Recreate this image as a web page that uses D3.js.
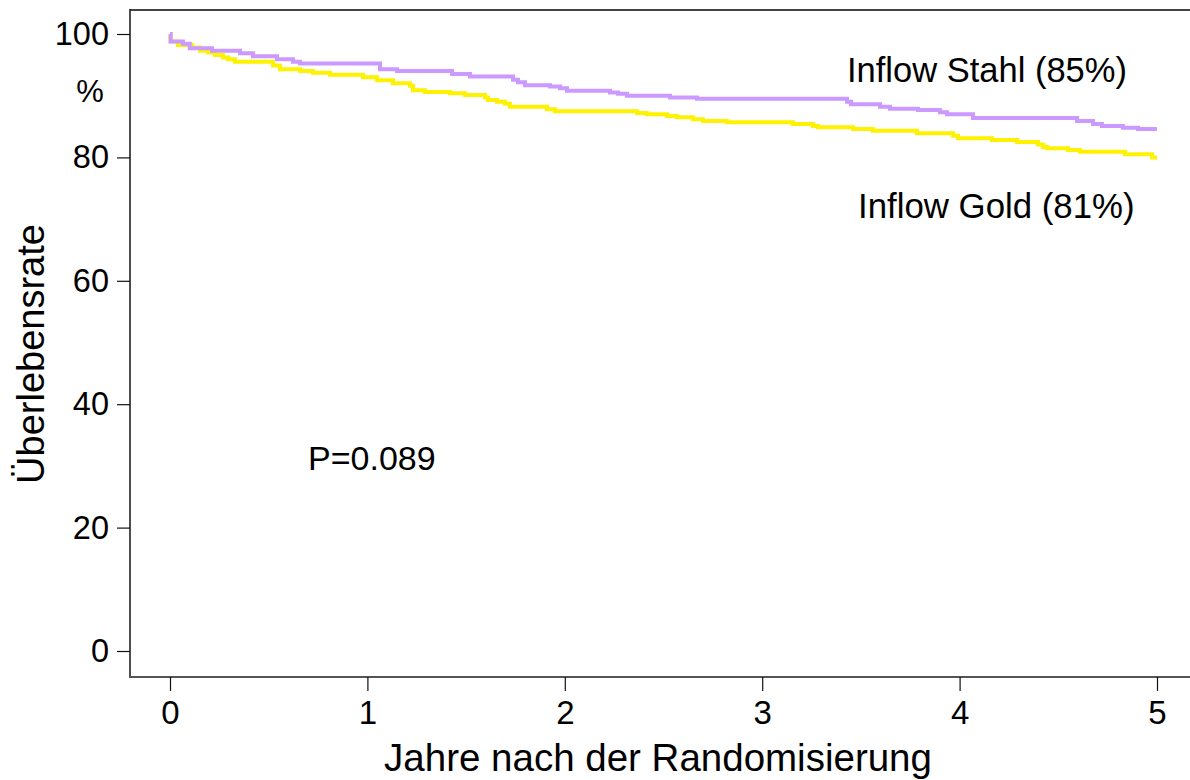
<!DOCTYPE html>
<html>
<head>
<meta charset="utf-8">
<script src="https://cdn.jsdelivr.net/npm/d3@7"></script>
<style>
  html, body { margin: 0; padding: 0; background: #ffffff; }
  svg { display: block; }
</style>
</head>
<body>
<div id="chart"></div>
<script>
// ############################################################################
// Survival curves: Inflow Stahl vs. Inflow Gold
// ############################################################################

// ============================================================================
// Data (years after randomisation, survival rate in %)
// ============================================================================

const stahlYears = [
  0, 0.003, 0.066, 0.10, 0.213, 0.355, 0.42, 0.542, 0.623, 0.659,
  1.064, 1.15, 1.429, 1.52, 1.738, 1.763, 1.798, 1.925, 1.976, 2.011,
  2.229, 2.27, 2.315, 2.533, 2.67, 3.43, 3.45, 3.597, 3.647, 3.789,
  3.90, 3.936, 4.068, 4.595, 4.676, 4.721, 4.828, 4.904, 5.0
]
const stahlSurvival = [
  100, 98.8, 98.4, 97.7, 97.3, 96.9, 96.4, 95.9, 95.5, 95.2,
  94.3, 94.0, 93.5, 93.1, 92.6, 92.2, 91.7, 91.5, 91.2, 90.8,
  90.5, 90.3, 90.0, 89.7, 89.5, 89.0, 88.6, 88.2, 87.9, 87.7,
  87.3, 87.0, 86.4, 85.9, 85.4, 85.1, 84.8, 84.6, 84.6
]

const goldYears = [
  0, 0.003, 0.04, 0.111, 0.152, 0.193, 0.228, 0.268, 0.294, 0.329,
  0.522, 0.557, 0.659, 0.724, 0.811, 0.978, 1.049, 1.13, 1.216, 1.231,
  1.292, 1.418, 1.494, 1.596, 1.611, 1.657, 1.697, 1.722, 1.91, 1.95,
  2.366, 2.416, 2.518, 2.568, 2.649, 2.70, 2.822, 3.156, 3.257, 3.283,
  3.46, 3.561, 3.784, 3.967, 3.992, 4.164, 4.291, 4.397, 4.422, 4.443,
  4.549, 4.61, 4.838, 4.975, 5.0
]
const goldSurvival = [
  100, 98.8, 98.2, 97.8, 97.3, 97.0, 96.6, 96.2, 95.9, 95.5,
  94.9, 94.3, 94.0, 93.7, 93.4, 93.0, 92.5, 92.0, 91.6, 90.9,
  90.6, 90.4, 90.1, 89.7, 89.3, 89.0, 88.7, 88.2, 87.8, 87.5,
  87.2, 87.0, 86.7, 86.5, 86.2, 85.9, 85.7, 85.4, 85.1, 84.9,
  84.6, 84.3, 83.9, 83.5, 83.1, 82.8, 82.5, 82.1, 81.7, 81.5,
  81.2, 80.9, 80.5, 80.0, 80.0
]

const xTicks = [0, 1, 2, 3, 4, 5]
const yTicks = [0, 20, 40, 60, 80, 100]

const seriesNames = ['Inflow Gold (81%)', 'Inflow Stahl (85%)']
const pLabel = 'P=0.089'
const xTitle = 'Jahre nach der Randomisierung'
const yTitle = 'Überlebensrate'
const yUnit = '%'

// ============================================================================
// Setup
// ============================================================================

const width = 1190
const height = 780
const font = 'Arial, "Liberation Sans", sans-serif'

const svg = d3.select('#chart')
  .append('svg')
  .attr('width', width)
  .attr('height', height)
  .style('font-family', font)

const x = d3.scaleLinear().domain([0, 5]).range([170, 1157])
const y = d3.scaleLinear().domain([0, 100]).range([651, 34])

// Frame edges in data units
const frameLeft = x(-0.2026)
const frameBottom = y(-4.2)
const frameTop = y(103.9)

// ============================================================================
// Frame (left, bottom, top; no right edge)
// ============================================================================

svg.append('line')
  .attr('x1', frameLeft).attr('x2', width)
  .attr('y1', frameTop).attr('y2', frameTop)
  .attr('stroke', '#444').attr('stroke-width', 2)

svg.append('line')
  .attr('x1', frameLeft).attr('x2', frameLeft)
  .attr('y1', frameTop - 1).attr('y2', frameBottom + 1)
  .attr('stroke', '#222').attr('stroke-width', 1.6)

svg.append('line')
  .attr('x1', frameLeft - 1).attr('x2', width)
  .attr('y1', frameBottom).attr('y2', frameBottom)
  .attr('stroke', '#555').attr('stroke-width', 2)

// ============================================================================
// Axes
// ============================================================================

const xAxis = svg.append('g')
  .attr('transform', 'translate(0,' + frameBottom + ')')
  .call(d3.axisBottom(x).tickValues(xTicks).tickSize(14).tickPadding(10)
    .tickFormat(d3.format('d')))
xAxis.select('.domain').remove()
xAxis.selectAll('line').attr('stroke', '#111').attr('stroke-width', 1.2)
xAxis.selectAll('text')
  .attr('fill', '#000')
  .style('font-family', font)
  .style('font-size', '33px')

const yAxis = svg.append('g')
  .attr('transform', 'translate(' + frameLeft + ',0)')
  .call(d3.axisLeft(y).tickValues(yTicks).tickSize(13).tickPadding(8)
    .tickFormat(d3.format('d')))
yAxis.select('.domain').remove()
yAxis.selectAll('line').attr('stroke', '#111').attr('stroke-width', 1.2)
yAxis.selectAll('text')
  .attr('fill', '#000')
  .style('font-family', font)
  .style('font-size', '32.5px')

// Unit below the top tick
svg.append('text')
  .attr('x', 90)
  .attr('y', 102)
  .attr('text-anchor', 'middle')
  .style('font-size', '31px')
  .text(yUnit)

// Axis titles
svg.append('text')
  .attr('x', 658)
  .attr('y', 771)
  .attr('text-anchor', 'middle')
  .style('font-size', '38.5px')
  .text(xTitle)

svg.append('text')
  .attr('transform', 'translate(44,354) rotate(-90)')
  .attr('text-anchor', 'middle')
  .style('font-size', '38px')
  .text(yTitle)

// ============================================================================
// Survival curves
// ============================================================================

const stepLine = d3.line()
  .x(d => x(d[0]))
  .y(d => y(d[1]))
  .curve(d3.curveStepAfter)

const curves = [
  { years: goldYears, values: goldSurvival, color: '#FFF200' },
  { years: stahlYears, values: stahlSurvival, color: '#CC99FF' }
]

for (let c of curves)
{
  svg.append('path')
    .datum(d3.zip(c.years, c.values))
    .attr('d', stepLine)
    .attr('fill', 'none')
    .attr('stroke', c.color)
    .attr('stroke-width', 4)
    .attr('stroke-linejoin', 'miter')
}

// ============================================================================
// Labels
// ============================================================================

svg.append('text')
  .attr('x', 847)
  .attr('y', 82)
  .style('font-size', '34.5px')
  .text(seriesNames[1])

svg.append('text')
  .attr('x', 858)
  .attr('y', 218)
  .style('font-size', '34.8px')
  .text(seriesNames[0])

svg.append('text')
  .attr('x', 308)
  .attr('y', 470)
  .style('font-size', '34px')
  .text(pLabel)
</script>
</body>
</html>
